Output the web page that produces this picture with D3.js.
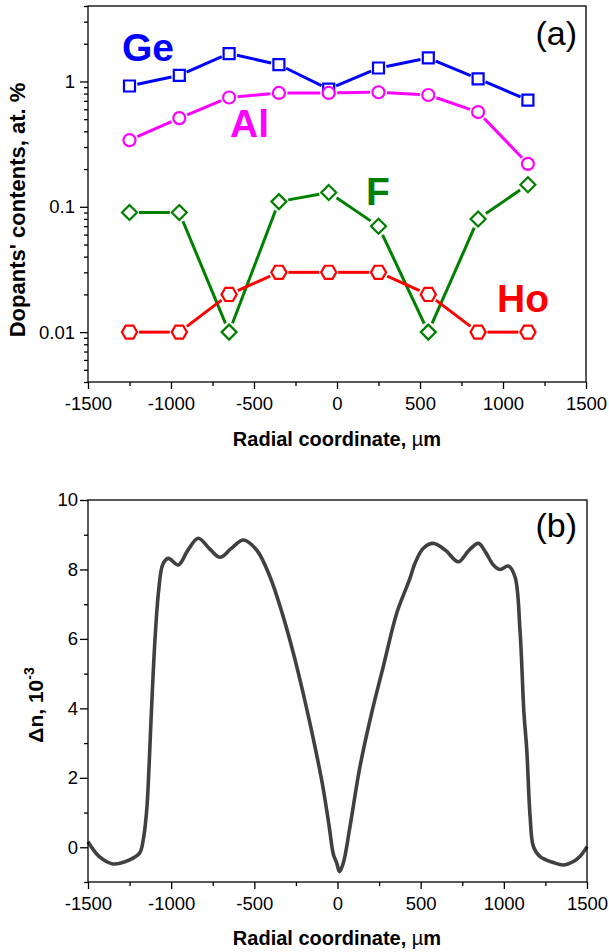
<!DOCTYPE html>
<html>
<head>
<meta charset="utf-8">
<script src="https://cdn.jsdelivr.net/npm/d3@7"></script>
<style>
  html, body { margin: 0; padding: 0; background: #fff; }
  svg { display: block; font-family: "Liberation Sans", Arial, Helvetica, sans-serif; }
</style>
</head>
<body>
<svg id="fig" width="609" height="952"></svg>
<script>
// ---- Panel (a): dopant contents along the radial coordinate ----
const radialPositions = [-1250, -950, -650, -350, -50, 250, 550, 850, 1150];
const geContent = [0.92, 1.12, 1.67, 1.36, 0.87, 1.28, 1.54, 1.05, 0.71];
const alContent = [0.34, 0.51, 0.745, 0.81, 0.81, 0.82, 0.78, 0.57, 0.22];
const fContent  = [0.09, 0.09, 0.01, 0.11, 0.13, 0.07, 0.01, 0.08, 0.15];
const hoContent = [0.01, 0.01, 0.02, 0.03, 0.03, 0.03, 0.02, 0.01, 0.01];

const seriesNames  = ["Ge", "Al", "F", "Ho"];
const seriesColors = ["#0000ff", "#ff00ff", "#008000", "#ff0000"];

// ---- Panel (b): refractive index difference profile ----
const profileX = [-1500, -1430, -1350, -1250, -1190, -1168, -1147, -1133, -1117, -1097,
  -1075, -1050, -1017, -957, -900, -837, -770, -706, -640, -566,
  -486, -406, -330, -266, -200, -140, -90, -50, -25, -5,
  12, 35, 75, 135, 205, 275, 356, 416,
  436, 466, 516, 576, 650, 726, 790, 847, 890, 937,
  977, 1027, 1067, 1097, 1121, 1138, 1158, 1178, 1218, 1298,
  1358, 1418, 1460, 1500];
const profileDn = [0.16, -0.28, -0.48, -0.36, -0.17, 0.21, 1.07, 2.32, 4.1, 6.0,
  7.4, 8.15, 8.32, 8.13, 8.55, 8.9, 8.6, 8.35, 8.6, 8.85,
  8.56, 7.79, 6.7, 5.6, 4.3, 3.0, 1.8, 0.6, -0.2, -0.45,
  -0.7, -0.45, 0.59, 2.32, 3.86, 5.2, 6.74, 7.5,
  7.75, 8.18, 8.61, 8.75, 8.55, 8.22, 8.55, 8.75, 8.5, 8.13,
  8.0, 8.1, 7.79, 6.26, 3.86, 2.8, 0.88, 0.02, -0.27, -0.44,
  -0.51, -0.41, -0.25, 0.02];

// ---- Axis ticks ----
const xTicks = [-1500, -1000, -500, 0, 500, 1000, 1500];
const xMinorTicks = [-1250, -750, -250, 250, 750, 1250];
const yTicksA = [0.01, 0.1, 1];
const yTickLabelsA = ["0.01", "0.1", "1"];
const yTicksB = [0, 2, 4, 6, 8, 10];
const yMinorTicksB = [-1, 1, 3, 5, 7, 9];

const svg = d3.select("#fig");
const AXIS_W = 1.3;
const TICK_FONT = 18.5;
const plainNumber = d => String(d);   // ASCII hyphen for negatives

function styleAxis(g) {
  g.select(".domain").remove();
  g.selectAll(".tick line").attr("stroke", "#000").attr("stroke-width", AXIS_W);
  g.selectAll(".tick text").attr("fill", "#000").attr("font-size", TICK_FONT)
    .attr("font-family", "'Liberation Sans', Arial, sans-serif");
}

function drawXAxis(g, x, y0) {
  g.append("g").attr("transform", `translate(0,${y0})`)
    .call(d3.axisBottom(x).tickValues(xTicks).tickSize(7).tickPadding(8).tickFormat(plainNumber))
    .call(styleAxis);
  g.append("g").attr("transform", `translate(0,${y0})`)
    .call(d3.axisBottom(x).tickValues(xMinorTicks).tickSize(4).tickFormat(""))
    .call(styleAxis);
}

function drawFrame(g, x0, y0, x1, y1) {
  g.append("rect").attr("x", x0).attr("y", y0).attr("width", x1 - x0).attr("height", y1 - y0)
    .attr("fill", "none").attr("stroke", "#000").attr("stroke-width", AXIS_W);
}

function xTitle(g, cx, baseline) {
  const t = g.append("text").attr("x", cx).attr("y", baseline).attr("text-anchor", "middle")
    .attr("font-size", 20).attr("font-weight", "bold").attr("fill", "#000");
  t.append("tspan").text("Radial coordinate, ");
  t.append("tspan").attr("font-weight", "normal").text("µ");
  t.append("tspan").text("m");
}

// ================= Panel (a) =================
{
  const L = 88, R = 586, T = 6, B = 382;
  const x = d3.scaleLinear().domain([-1500, 1500]).range([L, R]);
  const y = d3.scaleLog().domain([0.004, 4]).range([B, T]);
  const g = svg.append("g");

  // axes
  drawXAxis(g, x, B);
  g.append("g").attr("transform", `translate(${L},0)`)
    .call(d3.axisLeft(y).tickValues(yTicksA).tickSize(8).tickPadding(5)
      .tickFormat((d, i) => yTickLabelsA[i]))
    .call(styleAxis);
  const minorY = y.ticks().filter(v => !yTicksA.some(m => Math.abs(m - v) / m < 1e-6));
  g.append("g").attr("transform", `translate(${L},0)`)
    .call(d3.axisLeft(y).tickValues(minorY).tickSize(4).tickFormat(""))
    .call(styleAxis);
  drawFrame(g, L, T, R, B);

  // series lines, trimmed short of each marker
  const allSeries = [geContent, alContent, fContent, hoContent];
  const trims = [8, 8.5, 9.5, 9.5];
  allSeries.forEach((vals, si) => {
    const pts = radialPositions.map((r, i) => [x(r), y(vals[i])]);
    const segs = [];
    for (let i = 0; i < pts.length - 1; i++) {
      const [x1, y1] = pts[i], [x2, y2] = pts[i + 1];
      const len = Math.hypot(x2 - x1, y2 - y1);
      const tr = trims[si];
      if (len <= 2 * tr) continue;
      const ux = (x2 - x1) / len, uy = (y2 - y1) / len;
      segs.push([[x1 + ux * tr, y1 + uy * tr], [x2 - ux * tr, y2 - uy * tr]]);
    }
    g.append("g").selectAll("path").data(segs).join("path")
      .attr("d", d => d3.line()(d))
      .attr("fill", "none").attr("stroke", seriesColors[si]).attr("stroke-width", 3);
  });

  // markers
  const hexagon = (r) => {
    const p = [];
    for (let k = 0; k < 6; k++) {
      const a = Math.PI / 3 * k;
      p.push([r * Math.cos(a), r * Math.sin(a)]);
    }
    return "M" + p.map(q => q.join(",")).join("L") + "Z";
  };
  const markerPath = [
    () => "M-5.5,-5.5H5.5V5.5H-5.5Z",
    () => d3.arc()({ innerRadius: 0, outerRadius: 6, startAngle: 0, endAngle: 2 * Math.PI }),
    () => "M0,-7.5L7.5,0L0,7.5L-7.5,0Z",
    () => hexagon(7.6)
  ];
  allSeries.forEach((vals, si) => {
    g.append("g").selectAll("path").data(radialPositions.map((r, i) => [r, vals[i]])).join("path")
      .attr("transform", d => `translate(${x(d[0])},${y(d[1])})`)
      .attr("d", markerPath[si]())
      .attr("fill", "#fff").attr("stroke", seriesColors[si]).attr("stroke-width", 2.2);
  });

  // series labels
  const labelPos = [[122, 61], [230, 137], [366, 205], [497, 312]];
  seriesNames.forEach((n, i) => {
    g.append("text").attr("x", labelPos[i][0]).attr("y", labelPos[i][1])
      .attr("font-size", 39).attr("font-weight", "bold").attr("fill", seriesColors[i]).text(n);
  });

  g.append("text").attr("x", 577).attr("y", 45).attr("text-anchor", "end")
    .attr("font-size", 34).attr("fill", "#000").text("(a)");

  xTitle(g, 337, 446);
  g.append("text").attr("transform", "translate(25,210) rotate(-90)")
    .attr("text-anchor", "middle").attr("font-size", 22).attr("font-weight", "bold")
    .attr("fill", "#000").text("Dopants' contents, at. %");
}

// ================= Panel (b) =================
{
  const L = 88, R = 587, T = 500, B = 882;
  const x = d3.scaleLinear().domain([-1500, 1500]).range([L, R]);
  const y = d3.scaleLinear().domain([-1, 10]).range([B, T]);
  const g = svg.append("g");

  drawXAxis(g, x, B);
  g.append("g").attr("transform", `translate(${L},0)`)
    .call(d3.axisLeft(y).tickValues(yTicksB).tickSize(8).tickPadding(2).tickFormat(plainNumber))
    .call(styleAxis);
  g.append("g").attr("transform", `translate(${L},0)`)
    .call(d3.axisLeft(y).tickValues(yMinorTicksB).tickSize(4).tickFormat(""))
    .call(styleAxis);

  g.append("path")
    .datum(profileX.map((v, i) => [v, profileDn[i]]))
    .attr("d", d3.line().x(d => x(d[0])).y(d => y(d[1])).curve(d3.curveCatmullRom.alpha(0.5)))
    .attr("fill", "none").attr("stroke", "#404040").attr("stroke-width", 3.6)
    .attr("stroke-linejoin", "round");

  drawFrame(g, L, T, R, B);

  g.append("text").attr("x", 577).attr("y", 537).attr("text-anchor", "end")
    .attr("font-size", 34).attr("fill", "#000").text("(b)");

  xTitle(g, 337, 945);
  const yt = g.append("text").attr("transform", "translate(43,705) rotate(-90)")
    .attr("text-anchor", "middle").attr("font-size", 21).attr("font-weight", "bold").attr("fill", "#000");
  yt.append("tspan").text("Δn, 10");
  yt.append("tspan").attr("font-size", 14).attr("dy", -9).text("-3");
}
</script>
</body>
</html>
